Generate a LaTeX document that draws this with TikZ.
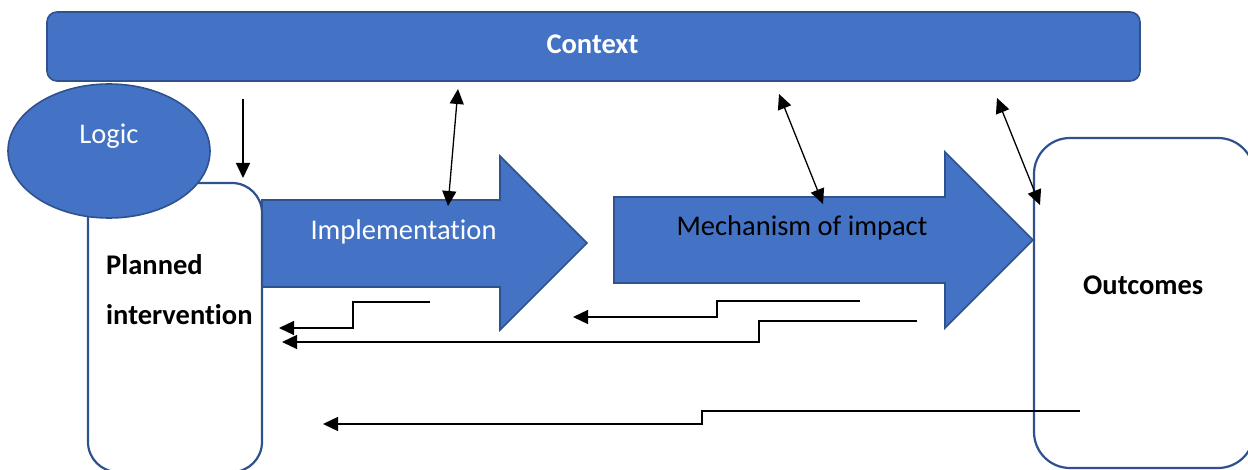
\documentclass[tikz,border=0pt]{standalone}
\usepackage{fontspec}
\setmainfont{Carlito}[Ligatures=NoCommon]
\usetikzlibrary{arrows.meta,shapes.geometric}
\definecolor{boxblue}{HTML}{4472C4}
\definecolor{edgeblue}{HTML}{2F528F}
\begin{document}
\begin{tikzpicture}[x=1pt, y=-1pt, >={Triangle[length=15pt,width=14pt]},
    lbl/.style={font=\fontsize{28.5}{34}\selectfont, inner sep=0},
    blk/.style={fill=boxblue, draw=edgeblue, line width=1.6pt},
    frame/.style={draw=edgeblue, fill=white, line width=2.2pt, rounded corners=30pt, inner sep=0},
    link/.style={line width=1.3pt}]
    \useasboundingbox (0,0) rectangle (1248,470);
    % context bar
    \node[blk, rounded corners=10pt, minimum width=1093pt, minimum height=69pt] (context) at (593.5,46.5) {};
    \node[lbl, anchor=base, text=white] (ctxtxt) at (592.5,54) {\bfseries Context};
    % the two block arrows
    \draw[blk] (262,200) -- (500,200) -- (500,156) -- (587,243) -- (500,330) -- (500,287) -- (262,287) -- cycle;
    \draw[blk] (614,197) -- (945,197) -- (945,152) -- (1033,240) -- (945,328) -- (945,283) -- (614,283) -- cycle;
    \node[lbl, anchor=base, text=white] (impl) at (403.5,240) {Implementation};
    \node[lbl, anchor=base] (mech) at (802,236) {Mechanism of impact};
    % side boxes
    \node[frame, minimum width=174pt, minimum height=289pt] (planned) at (175,327.5) {};
    \node[frame, rounded corners=36pt, minimum width=220pt, minimum height=330pt] (outcomes) at (1144,303) {};
    \node[blk, ellipse, inner sep=0, minimum width=202pt, minimum height=134pt] (logic) at (109,151) {};
    \node[lbl, anchor=base, text=white] (logictxt) at (109,144) {Logic};
    \node[lbl, anchor=base west, align=left] (plantxt) at (106,325) {\bfseries Planned\\[17pt]\bfseries intervention};
    \node[lbl, anchor=base west] (outtxt) at (1083,295) {\bfseries Outcomes};
    % links to the context
    \coordinate (ctxL) at (243,99);
    \coordinate (plTop) at (243,178);
    \draw[link,->] (ctxL) -- (plTop);
    \foreach \ax/\ay/\bx/\by [count=\i] in {458/89/448/206, 779/94/823/204, 997/98/1040/205}
    {
        \coordinate (up\i) at (\ax,\ay);
        \coordinate (dn\i) at (\bx,\by);
        \draw[link,<->] (up\i) -- (dn\i);
    }
    % feedback lines
    \foreach \sx/\sy/\dx/\tx/\ty [count=\i] in {430/302/-77/279/328, 917/321/-158/282/342, 860/301/-143/573/317, 1080/411/-378/323/424}
    {
        \coordinate (fb\i) at (\sx,\sy);
        \coordinate (tip\i) at (\tx,\ty);
        \draw[link,->] (fb\i) -- ++(\dx,0) |- (tip\i);
    }
\end{tikzpicture}
\end{document}
